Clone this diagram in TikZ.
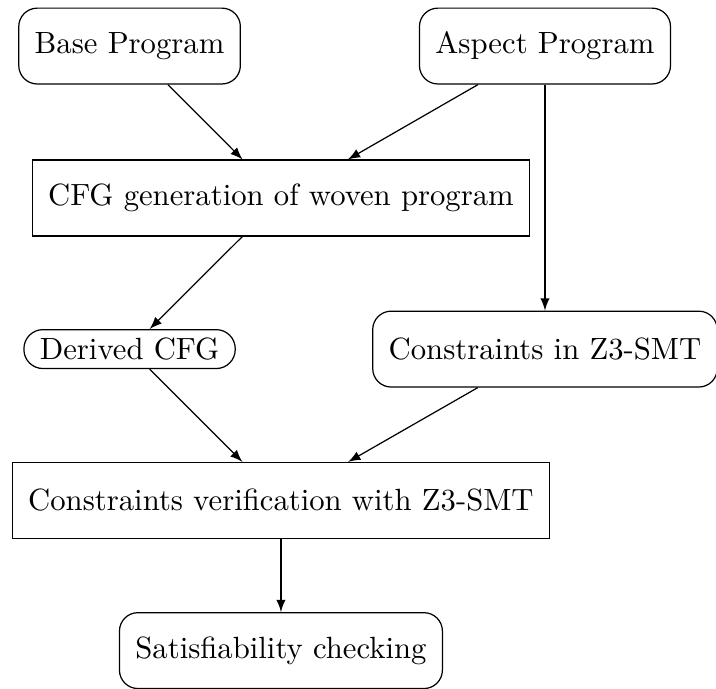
\documentclass[tikz,border=0pt]{standalone}
\usepackage{tikz}
\usetikzlibrary{arrows}
\tikzset{>=latex}

\begin{document}
\begin{tikzpicture}[x=1pt, y=1pt,
roundbox/.style={draw, rounded corners=6pt, minimum height=24.7pt, inner xsep=5.2pt},
flatbox/.style={draw, minimum height=24.7pt, inner xsep=5.2pt},
pillbox/.style={draw, rounded corners=6.2pt, inner xsep=5.2pt, inner ysep=2.7pt}]
\useasboundingbox (0,0) rectangle (233.2,-224.4);
% inputs
\node[roundbox] (base) at (42.2,-15) {Base Program};
\node[roundbox] (aspect) at (177.5,-15) {Aspect Program};
% weaving
\node[flatbox] (cfg) at (91.5,-64.5) {CFG generation of woven program};
\node[pillbox] (derived) at (42.2,-113.7) {Derived CFG};
\node[roundbox] (z3) at (177.5,-113.7) {Constraints in Z3-SMT};
% checking
\node[flatbox] (verif) at (91.5,-163) {Constraints verification with Z3-SMT};
\node[roundbox] (sat) at (91.5,-211.9) {Satisfiability checking};
\path[->]
(base) edge (cfg)
(aspect) edge (cfg)
edge (z3)
(cfg) edge (derived)
(derived) edge (verif)
(z3) edge (verif)
(verif) edge (sat)
;
\end{tikzpicture}
\end{document}
